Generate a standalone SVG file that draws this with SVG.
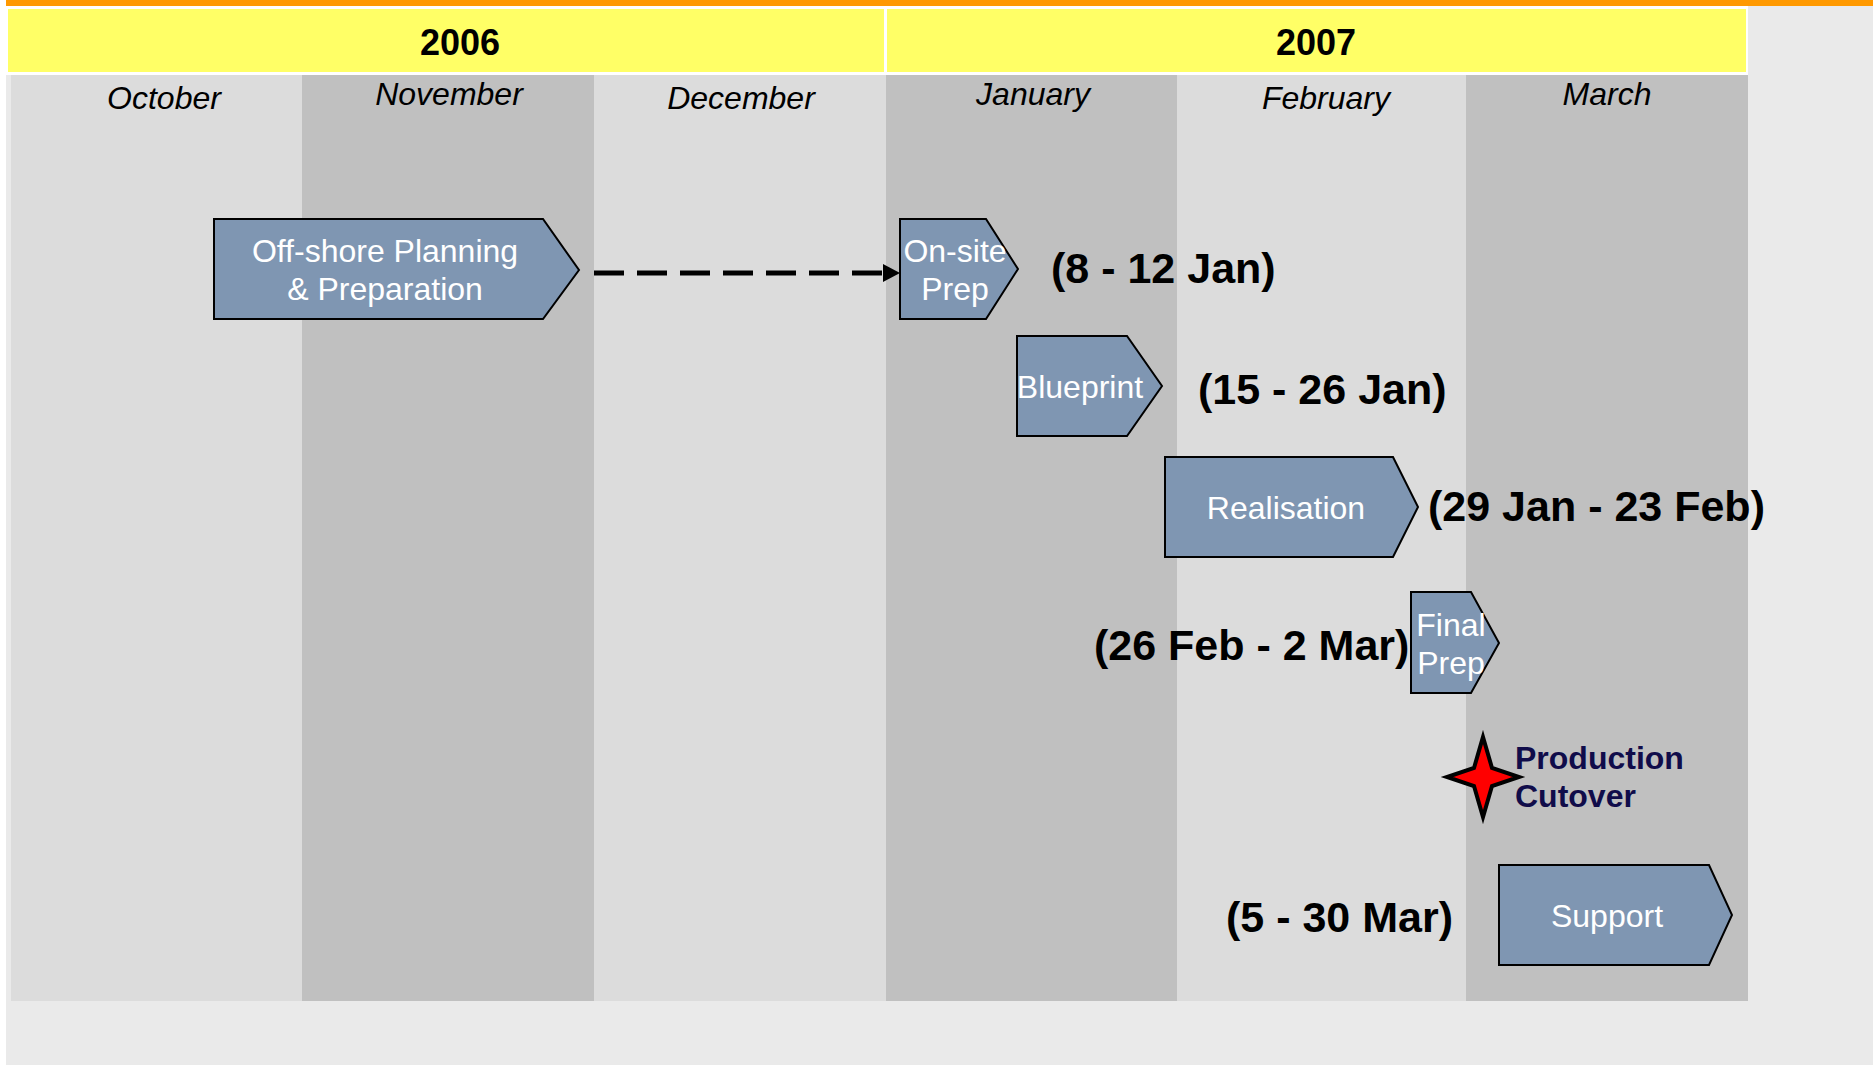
<svg xmlns="http://www.w3.org/2000/svg" width="1873" height="1065" viewBox="0 0 1873 1065">
  <style>
    .year { font-family: "Liberation Sans", Arial, sans-serif; font-weight: bold; font-size: 36px; fill: #000; text-anchor: middle; }
    .month { font-family: "Liberation Sans", Arial, sans-serif; font-style: italic; font-size: 32px; fill: #000; text-anchor: middle; }
    .col-light { fill: #DCDCDC; }
    .col-dark { fill: #C0C0C0; }
    .phase { fill: #7F96B2; stroke: #000; stroke-width: 2; stroke-linejoin: miter; }
    .phase-text { font-family: "Liberation Sans", Arial, sans-serif; font-size: 32px; fill: #FFFFFF; text-anchor: middle; }
    .dates { font-family: "Liberation Sans", Arial, sans-serif; font-weight: bold; font-size: 43px; fill: #000; }
    .milestone-text { font-family: "Liberation Sans", Arial, sans-serif; font-weight: bold; font-size: 32px; fill: #100C4A; }
  </style>

  <!-- page background -->
  <rect x="0" y="0" width="1873" height="1065" fill="#FFFFFF"/>
  <rect x="6" y="6" width="1867" height="1059" fill="#EAEAEA"/>
  <rect x="6" y="0" width="1867" height="6" fill="#FF9900"/>

  <!-- year header -->
  <g id="year-header">
    <rect x="6" y="6" width="1742" height="69" fill="#FFFFFF"/>
    <rect x="8" y="9" width="876" height="63" fill="#FFFF66"/>
    <rect x="887" y="9" width="859" height="63" fill="#FFFF66"/>
    <text class="year" x="460" y="55">2006</text>
    <text class="year" x="1316" y="55">2007</text>
  </g>

  <!-- month columns -->
  <g id="months">
    <rect class="col-light" x="11" y="75" width="291" height="926"/>
    <rect class="col-dark" x="302" y="75" width="292" height="926"/>
    <rect class="col-light" x="594" y="75" width="292" height="926"/>
    <rect class="col-dark" x="886" y="75" width="291" height="926"/>
    <rect class="col-light" x="1177" y="75" width="289" height="926"/>
    <rect class="col-dark" x="1466" y="75" width="282" height="926"/>
    <text class="month" x="164" y="109">October</text>
    <text class="month" x="449" y="105">November</text>
    <text class="month" x="741" y="109">December</text>
    <text class="month" x="1033" y="105">January</text>
    <text class="month" x="1326" y="109">February</text>
    <text class="month" x="1607" y="105">March</text>
  </g>

  <!-- connectors -->
  <g id="connectors">
    <line x1="594" y1="273" x2="883" y2="273" stroke="#000" stroke-width="5" stroke-dasharray="30 13"/>
    <polygon points="883,264 900,273 883,282" fill="#000"/>
  </g>

  <!-- phases -->
  <g id="offshore-planning">
    <polygon class="phase" points="214,219 543,219 579,270 543,319 214,319"/>
    <text class="phase-text" x="385" y="262">Off-shore Planning</text>
    <text class="phase-text" x="385" y="300">&amp; Preparation</text>
  </g>

  <g id="onsite-prep">
    <polygon class="phase" points="900,219 986,219 1018,269 986,319 900,319"/>
    <text class="phase-text" x="955" y="262">On-site</text>
    <text class="phase-text" x="955" y="300">Prep</text>
    <text class="dates" x="1051" y="283">(8 - 12 Jan)</text>
  </g>

  <g id="blueprint">
    <polygon class="phase" points="1017,336 1127,336 1162,386 1127,436 1017,436"/>
    <text class="phase-text" x="1080" y="398">Blueprint</text>
    <text class="dates" x="1198" y="404">(15 - 26 Jan)</text>
  </g>

  <g id="realisation">
    <polygon class="phase" points="1165,457 1393,457 1418,507 1393,557 1165,557"/>
    <text class="phase-text" x="1286" y="519">Realisation</text>
    <text class="dates" x="1428" y="521">(29 Jan - 23 Feb)</text>
  </g>

  <g id="final-prep">
    <polygon class="phase" points="1411,592 1471,592 1499,643 1471,693 1411,693"/>
    <text class="phase-text" x="1451" y="636">Final</text>
    <text class="phase-text" x="1451" y="674">Prep</text>
    <text class="dates" x="1094" y="660">(26 Feb - 2 Mar)</text>
  </g>

  <g id="production-cutover">
    <polygon points="1483,737 1492,768 1519,777 1492,786 1483,817 1474,786 1447,777 1474,768"
             fill="#FF0000" stroke="#000" stroke-width="4" stroke-miterlimit="12" stroke-linejoin="miter"/>
    <text class="milestone-text" x="1515" y="769">Production</text>
    <text class="milestone-text" x="1515" y="807">Cutover</text>
  </g>

  <g id="support">
    <polygon class="phase" points="1499,865 1709,865 1732,915 1709,965 1499,965"/>
    <text class="phase-text" x="1607" y="927">Support</text>
    <text class="dates" x="1226" y="932">(5 - 30 Mar)</text>
  </g>
</svg>
